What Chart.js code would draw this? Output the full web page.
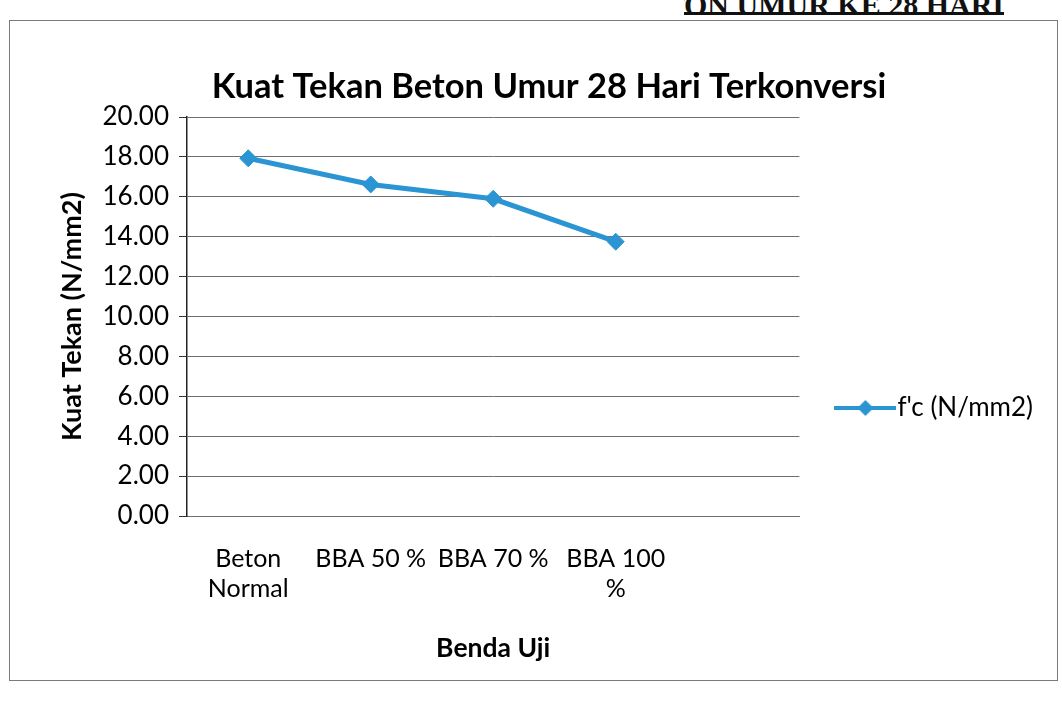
<!DOCTYPE html>
<html><head><meta charset="utf-8">
<script src="https://cdn.jsdelivr.net/npm/chart.js@4.4.1/dist/chart.umd.min.js"></script>
<style>
html,body{margin:0;padding:0;background:#fff;overflow:hidden;width:1062px;height:703px;}
#frame{position:absolute;left:9px;top:20px;width:1049px;height:661px;border:1px solid #7a7a7a;box-sizing:border-box;}
#head{position:absolute;left:684px;width:320px;top:-12px;height:24px;overflow:hidden;border-bottom:3px solid #111;}
#head span{position:absolute;right:0;top:0;line-height:24px;white-space:nowrap;font:bold 30px 'Liberation Serif';color:#111;}
#wrap{position:absolute;left:0;top:0;width:1047px;height:703px;}
</style></head><body>
<div id="head"><span>KUAT TEKAN BETON UMUR KE 28 HARI</span></div>
<div id="frame"></div>
<div id="wrap"><canvas id="c"></canvas></div>
<script>
const categories = [['Beton', 'Normal'], 'BBA 50 %', 'BBA 70 %', ['BBA 100', '%'], ''];
const fcValues = [17.93, 16.62, 15.90, 13.75, null];
const seriesLabel = "f'c (N/mm2)";
const yMin = 0, yMax = 20, yStep = 2;
const chartTitle = 'Kuat Tekan Beton Umur 28 Hari Terkonversi';
const xTitle = 'Benda Uji';
const yTitle = 'Kuat Tekan (N/mm2)';

const lineColor = '#2b95d3';

const legendImg = document.createElement('canvas');
legendImg.width = 62; legendImg.height = 20;
const g = legendImg.getContext('2d');
g.strokeStyle = lineColor; g.lineWidth = 4;
g.beginPath(); g.moveTo(0, 10); g.lineTo(62, 10); g.stroke();
g.fillStyle = lineColor;
g.beginPath(); g.moveTo(31, 2); g.lineTo(39, 10); g.lineTo(31, 18); g.lineTo(23, 10); g.closePath(); g.fill();

new Chart(document.getElementById('c'), {
  type: 'line',
  data: {
    labels: categories,
    datasets: [{
      label: seriesLabel, data: fcValues,
      borderColor: lineColor, backgroundColor: lineColor, borderWidth: 5,
      pointStyle: 'rectRot', pointRadius: 8.5, pointBackgroundColor: lineColor,
      pointBorderColor: lineColor, pointBorderWidth: 1, tension: 0
    }]
  },
  options: {
    responsive: true, maintainAspectRatio: false, animation: false,
    layout: { padding: { left: 55, right: 4, top: 0, bottom: 0 } },
    plugins: {
      title: { display: true, text: chartTitle, color: '#000',
        font: { family: 'Lato', size: 34.5, weight: 'bold' }, padding: { top: 66.3, bottom: 9.3 } },
      legend: {
        position: 'right', align: 'center',
        title: { display: true, text: '', font: { size: 10 }, padding: { top: 0, bottom: 101 } },
        labels: { usePointStyle: true, pointStyle: legendImg, pointStyleWidth: 38, boxHeight: 20,
          padding: 47, color: '#000', font: { family: 'Lato', size: 26 } }
      },
      tooltip: { enabled: false }
    },
    scales: {
      x: {
        offset: true,
        grid: { display: false, drawTicks: false },
        border: { display: true, color: '#6f6f6f', width: 1 },
        ticks: { autoSkip: false, maxRotation: 0, minRotation: 0, padding: 28, color: '#000',
          font: { family: 'Lato', size: 25 } },
        title: { display: true, text: xTitle, color: '#000',
          font: { family: 'Lato', size: 26.5, weight: 'bold' }, padding: { top: 0, bottom: 39 } },
        afterFit: (s) => { s.height = 187; }
      },
      y: {
        min: yMin, max: yMax,
        ticks: { stepSize: yStep, callback: v => v.toFixed(2), padding: 10, color: '#000',
          font: { family: 'Lato', size: 26 } },
        grid: { color: '#6f6f6f', lineWidth: 1, tickLength: 8, tickColor: '#333' },
        border: { color: '#222', width: 1.5 },
        title: { display: true, text: yTitle, color: '#000',
          font: { family: 'Lato', size: 27, weight: 'bold' }, padding: { top: 0.8, bottom: 0 } },
        afterFit: (s) => { s.width = 132; }
      }
    }
  }
});
</script>
</body></html>
